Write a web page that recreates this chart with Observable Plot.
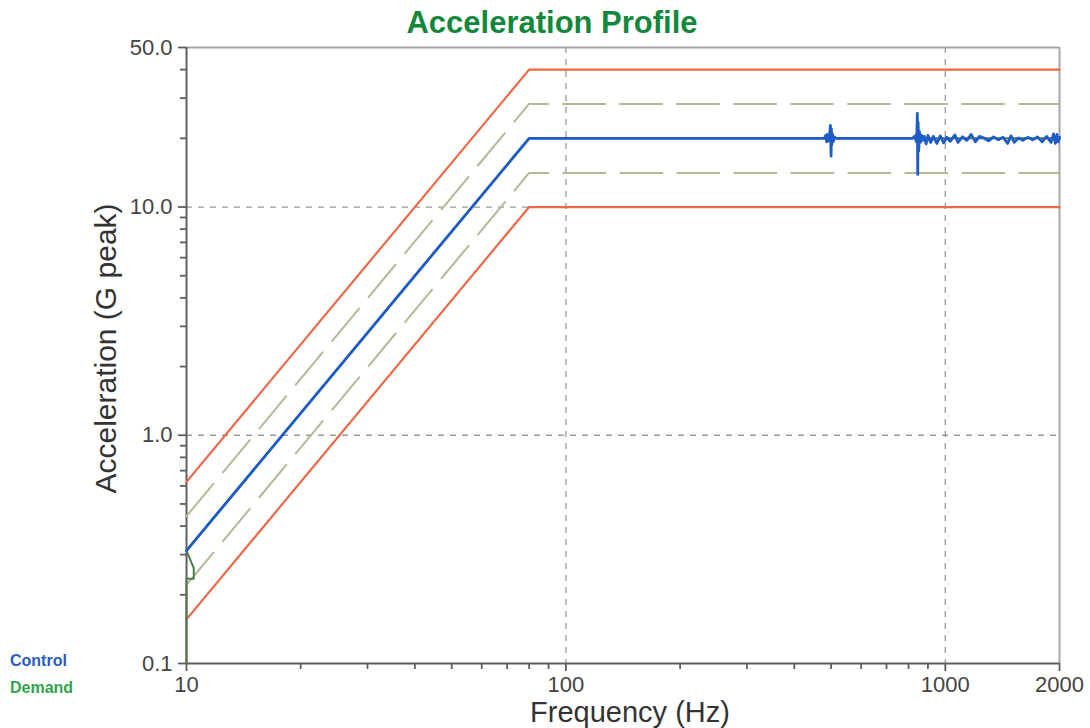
<!DOCTYPE html>
<html>
<head>
<meta charset="utf-8">
<script src="https://cdn.jsdelivr.net/npm/d3@7"></script>
<script src="https://cdn.jsdelivr.net/npm/@observablehq/plot@0.6"></script>
<style>
  html, body { margin: 0; padding: 0; background: #fff; }
  #wrap { position: relative; width: 1090px; height: 728px; font-family: "Liberation Sans", Arial, sans-serif; }
  #title { position: absolute; left: 0; top: 0; width: 1090px; height: 40px; line-height: 40px; padding-top: 3px; box-sizing: border-box; text-align: center; padding-left: 14px;
           font-size: 31px; font-weight: bold; color: #13883c; z-index: 2; }
  .leg { position: absolute; left: 10px; font-size: 16px; font-weight: bold; z-index: 2; }
  #chart { position: absolute; left: 0; top: 0; }
</style>
</head>
<body>
<div id="wrap">
  <div id="chart"></div>
  <div id="title">Acceleration Profile</div>
  <span class="leg" style="top:652px;color:#2a5cc0">Control</span>
  <span class="leg" style="top:679px;color:#2fa44c">Demand</span>
</div>
<script>
// ---- data ----
const xTicks = [10, 100, 1000, 2000];
const xTickLabels = ["10", "100", "1000", "2000"];
const xMinor = [20, 30, 40, 50, 60, 70, 80, 90, 200, 300, 400, 500, 600, 700, 800, 900];
const yTicks = [0.1, 1, 10, 50];
const yTickLabels = ["0.1", "1.0", "10.0", "50.0"];
const yMinor = [0.2, 0.3, 0.4, 0.5, 0.6, 0.7, 0.8, 0.9, 2, 3, 4, 5, 6, 7, 8, 9, 20, 30, 40];

// abort / alarm limits (frequency Hz, G peak)
const abortHighF = [10, 80, 2000];
const abortHighG = [0.625, 40, 40];
const alarmHighF = [10, 80, 2000];
const alarmHighG = [0.442, 28.3, 28.3];
const alarmLowF = [10, 80, 2000];
const alarmLowG = [0.221, 14.1, 14.1];
const abortLowF = [10, 80, 2000];
const abortLowG = [0.156, 10, 10];

// demand profile
const demandF = [10, 10, 10.45, 10.45, 10, 80, 2000];
const demandG = [0.1, 0.235, 0.235, 0.262, 0.3125, 20, 20];

// control measurement
const controlF = [10, 80, 480, 484, 487, 489, 492, 495, 498, 500, 501, 502, 504, 507, 510, 515,
  820, 832, 838, 842, 844, 846, 848, 851, 855, 860, 866, 872, 880, 890, 900, 915, 930, 950, 970,
  990, 1010, 1030, 1060, 1080, 1110, 1140, 1170, 1200, 1230, 1260, 1300, 1340, 1380, 1420, 1460,
  1490, 1520, 1560, 1600, 1650, 1700, 1750, 1800, 1850, 1900, 1930, 1950, 1970, 1985, 2000];
const controlG = [0.3125, 20, 20, 20.6, 19.3, 20.8, 19.5, 20.3, 22.8, 16.7, 22.0, 18.6, 20.9, 19.4, 20.3, 20,
  20, 20.5, 19.4, 21.5, 25.7, 13.9, 23.5, 17.6, 21.4, 19.2, 20.6, 19.6, 20.4, 18.9, 20.6, 19.2, 20.4, 19.0, 20.5,
  19.1, 20.2, 19.4, 20.7, 19.2, 20.3, 19.6, 20.8, 19.3, 20.4, 20.1, 19.5, 20.3, 19.7, 20.2, 19.0,
  20.5, 19.2, 20.1, 19.6, 20.2, 19.7, 20.3, 19.3, 20.4, 19.2, 20.9, 19.0, 20.8, 19.3, 20.2];

const toRows = (F, G) => F.map((f, i) => ({f, g: G[i]}));

const font = "Liberation Sans, Arial, sans-serif";
const axisColor = "#5e5e5e";
const chart = Plot.plot({
  width: 1090,
  height: 728,
  marginTop: 47,
  marginLeft: 186,
  marginRight: 31,
  marginBottom: 65,
  style: {fontFamily: font, background: "white"},
  x: {type: "log", domain: [10, 2000], axis: null},
  y: {type: "log", domain: [0.1, 50], axis: null},
  marks: [
    Plot.gridX({ticks: [100, 1000], stroke: "#9a9a9a", strokeOpacity: 1, strokeWidth: 1.3, strokeDasharray: "6,6"}),
    Plot.gridY({ticks: [1, 10], stroke: "#9a9a9a", strokeOpacity: 1, strokeWidth: 1.3, strokeDasharray: "6,6"}),
    Plot.ruleY([50], {stroke: "#a6a6a6", strokeWidth: 2}),
    Plot.ruleX([2000], {stroke: "#a6a6a6", strokeWidth: 2}),
    // minor ticks
    Plot.ruleX(xMinor, {x: d => d, y1: 0.1, y2: 0.1, insetBottom: -6, stroke: axisColor, strokeWidth: 1.8}),
    Plot.ruleY(yMinor, {y: d => d, x1: 10, x2: 10, insetLeft: -6, stroke: axisColor, strokeWidth: 1.8}),
    // major ticks
    Plot.ruleX(xTicks, {x: d => d, y1: 0.1, y2: 0.1, insetBottom: -8, stroke: axisColor, strokeWidth: 1.8}),
    Plot.ruleY(yTicks, {y: d => d, x1: 10, x2: 10, insetLeft: -8, stroke: axisColor, strokeWidth: 1.8}),
    // tick labels
    Plot.text(xTicks.map((t, i) => ({t, label: xTickLabels[i]})), {x: "t", y: 0.1, text: "label", dy: 21,
      fontSize: 22, fontFamily: font, fill: "#444", textAnchor: "middle", lineAnchor: "middle"}),
    Plot.text(yTicks.map((t, i) => ({t, label: yTickLabels[i]})), {x: 10, y: "t", text: "label", dx: -14,
      fontSize: 22, fontFamily: font, fill: "#444", textAnchor: "end", lineAnchor: "middle"}),
    Plot.ruleX([10], {stroke: axisColor, strokeWidth: 2}),
    Plot.ruleY([0.1], {stroke: axisColor, strokeWidth: 2}),
    Plot.line(toRows(alarmHighF, alarmHighG), {x: "f", y: "g", stroke: "#b3b996", strokeWidth: 2, strokeDasharray: "42,15"}),
    Plot.line(toRows(alarmLowF, alarmLowG), {x: "f", y: "g", stroke: "#b3b996", strokeWidth: 2, strokeDasharray: "42,15"}),
    Plot.line(toRows(abortHighF, abortHighG), {x: "f", y: "g", stroke: "#ec6846", strokeWidth: 2.2}),
    Plot.line(toRows(abortLowF, abortLowG), {x: "f", y: "g", stroke: "#ec6846", strokeWidth: 2.2}),
    Plot.line(toRows(demandF, demandG), {x: "f", y: "g", stroke: "#55794a", strokeWidth: 2}),
    Plot.line(toRows(controlF, controlG), {x: "f", y: "g", stroke: "#1c5cc4", strokeWidth: 2.8}),
    Plot.text(["Acceleration (G peak)"], {frameAnchor: "left", dx: -80, dy: -7, rotate: -90, fontSize: 30,
      fontFamily: font, fill: "#333", textAnchor: "middle", lineAnchor: "middle"}),
    Plot.text(["Frequency (Hz)"], {frameAnchor: "bottom", dx: 7, dy: 49, fontSize: 29, fontFamily: font, fill: "#333",
      textAnchor: "middle", lineAnchor: "middle"})
  ]
});
document.getElementById("chart").appendChild(chart);
</script>
</body>
</html>
